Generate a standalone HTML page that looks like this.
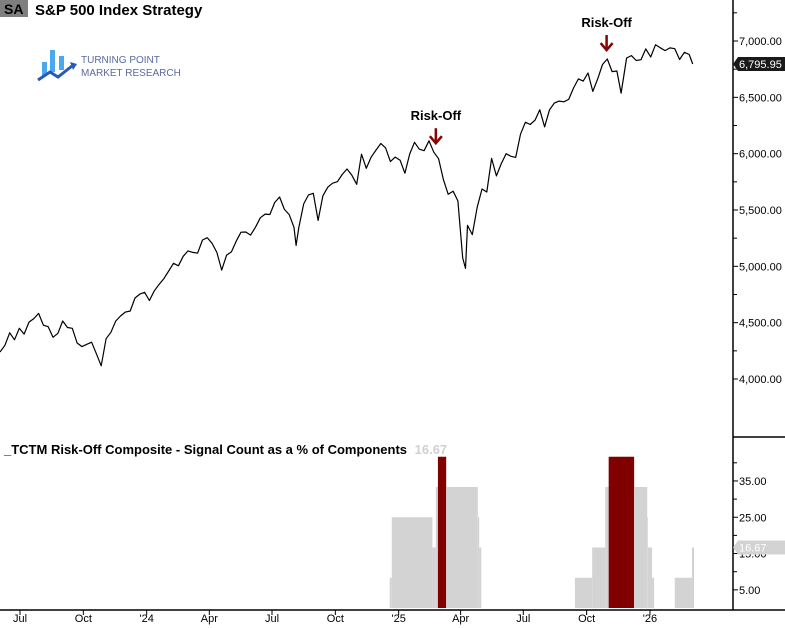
<!DOCTYPE html>
<html><head><meta charset="utf-8"><style>
body{margin:0;background:#fff;}
svg{display:block;font-family:"Liberation Sans",sans-serif;}
</style></head><body>
<svg id="c" width="785" height="628" viewBox="0 0 785 628">
<rect width="785" height="628" fill="#fff"/>
<g>
<rect x="0" y="0" width="28" height="17" fill="#7f7f7f"/>
<text x="4" y="14" font-size="14" font-weight="bold" fill="#000">SA</text>
<text x="35" y="15" font-size="15" font-weight="bold" fill="#000">S&amp;P 500 Index  Strategy</text>
</g>
<g>
<rect x="42" y="62" width="5" height="14" fill="#4aa8f0"/>
<rect x="50" y="50" width="5" height="22" fill="#4aa8f0"/>
<rect x="59" y="56" width="5" height="14" fill="#4aa8f0"/>
<polyline points="38,80 50,72 58,77 72,66" fill="none" stroke="#2a58b8" stroke-width="3"/>
<polygon points="70,62 77,64 73,70" fill="#2a58b8"/>
<text x="81" y="63" font-size="10" fill="#5a6aa0">TURNING POINT</text>
<text x="81" y="76" font-size="10" fill="#5a6aa0">MARKET RESEARCH</text>
</g>
<g id="grid"></g>
<line x1="733" y1="0" x2="733" y2="610" stroke="#000" stroke-width="1.5"/>
<line x1="733" y1="437" x2="785" y2="437" stroke="#000" stroke-width="1.5"/>
<line x1="0" y1="610" x2="785" y2="610" stroke="#000" stroke-width="1.5"/>
<text x="4" y="454" font-size="13" font-weight="bold" fill="#000">_TCTM Risk-Off Composite - Signal Count as a % of Components <tspan fill="#d0d0d0" dx="4">16.67</tspan></text>
<g id="plot"></g>
</svg>
<script>
const priceDates=["2023-06-02","2023-06-09","2023-06-16","2023-06-23","2023-06-30","2023-07-07","2023-07-14","2023-07-21","2023-07-28","2023-08-04","2023-08-11","2023-08-18","2023-08-25","2023-09-01","2023-09-08","2023-09-15","2023-09-22","2023-09-29","2023-10-06","2023-10-13","2023-10-20","2023-10-27","2023-11-03","2023-11-10","2023-11-17","2023-11-24","2023-12-01","2023-12-08","2023-12-15","2023-12-22","2023-12-29",
"2024-01-05","2024-01-12","2024-01-19","2024-01-26","2024-02-02","2024-02-09","2024-02-16","2024-02-23","2024-03-01","2024-03-08","2024-03-15","2024-03-22","2024-03-29","2024-04-05","2024-04-12","2024-04-19","2024-04-26","2024-05-03","2024-05-10","2024-05-17","2024-05-24","2024-05-31","2024-06-07","2024-06-14","2024-06-21","2024-06-28","2024-07-05","2024-07-12","2024-07-19","2024-07-26","2024-08-02","2024-08-05","2024-08-09","2024-08-16","2024-08-23","2024-08-30","2024-09-06","2024-09-13","2024-09-20","2024-09-27","2024-10-04","2024-10-11","2024-10-18","2024-10-25","2024-11-01","2024-11-08","2024-11-15","2024-11-22","2024-11-29","2024-12-06","2024-12-13","2024-12-20","2024-12-27",
"2025-01-03","2025-01-10","2025-01-17","2025-01-24","2025-01-31","2025-02-07","2025-02-14","2025-02-21","2025-02-28","2025-03-07","2025-03-14","2025-03-21","2025-03-28","2025-04-04","2025-04-08","2025-04-11","2025-04-18","2025-04-25","2025-05-02","2025-05-09","2025-05-16","2025-05-23","2025-05-30","2025-06-06","2025-06-13","2025-06-20","2025-06-27","2025-07-04","2025-07-11","2025-07-18","2025-07-25","2025-08-01","2025-08-08","2025-08-15","2025-08-22","2025-08-29","2025-09-05","2025-09-12","2025-09-19","2025-09-26","2025-10-03","2025-10-10","2025-10-17","2025-10-24","2025-10-31","2025-11-07","2025-11-14","2025-11-20","2025-11-28","2025-12-05","2025-12-12","2025-12-19","2025-12-26",
"2026-01-02","2026-01-09","2026-01-16","2026-01-23","2026-01-30","2026-02-06","2026-02-13","2026-02-20","2026-02-27","2026-03-04"];
const priceValues=[4240,4299,4410,4348,4450,4399,4505,4536,4582,4478,4464,4370,4406,4515,4457,4450,4320,4288,4308,4327,4224,4117,4358,4415,4514,4559,4594,4604,4719,4754,4770,
4697,4783,4840,4891,4959,5027,5005,5089,5137,5124,5117,5234,5254,5204,5123,4967,5100,5128,5223,5303,5305,5277,5347,5431,5464,5460,5567,5615,5505,5459,5346,5186,5344,5554,5634,5648,5408,5626,5702,5738,5751,5815,5864,5808,5728,5995,5870,5969,6032,6090,6051,5930,5970,
5942,5827,5997,6101,6040,6026,6114,6013,5955,5770,5639,5667,5581,5074,4982,5363,5282,5525,5686,5660,5958,5803,5912,6000,5977,5967,6173,6279,6259,6297,6389,6238,6389,6449,6467,6460,6482,6584,6664,6644,6716,6553,6664,6791,6840,6728,6734,6538,6849,6870,6827,6834,6930,
6858,6966,6940,6915,6939,6932,6836,6900,6880,6796];
const compDates=["2024-12-19","2024-12-22","2025-02-19","2025-02-24","2025-02-27","2025-03-11","2025-04-26","2025-04-28","2025-05-01","2025-09-14","2025-10-09","2025-10-28","2025-11-02","2025-12-09","2025-12-28","2025-12-29","2026-01-04","2026-01-07","2026-02-06","2026-03-03","2026-03-06"];
const compValues=[8.33,25,16.67,33.33,41.67,33.33,25,16.67,0,8.33,16.67,33.33,41.67,33.33,25,16.67,8.33,0,8.33,16.67,16.67];
const priceTicks=[4000,4500,5000,5500,6000,6500,7000];
const compTicks=[5,15,25,35];
const xTickDates=["2023-07-01","2023-10-01","2024-01-01","2024-04-01","2024-07-01","2024-10-01","2025-01-01","2025-04-01","2025-07-01","2025-10-01","2026-01-01"];
const xTickLabels=["Jul","Oct","'24","Apr","Jul","Oct","'25","Apr","Jul","Oct","'26"];
const signalDates=["2025-02-24","2025-10-30"];
const lastPrice=6795.95;
const lastComp=16.67;

const NS="http://www.w3.org/2000/svg";
const base=Date.UTC(2023,6,1);
function xS(d){const p=d.split("-");return 20+((Date.UTC(+p[0],p[1]-1,+p[2])-base)/864e5)*0.6885;}
function yP(v){return 41+(7000-v)*0.11267;}
function yC(v){return 608-v*3.63;}
function mk(t,a,parent){const e=document.createElementNS(NS,t);for(const k in a)e.setAttribute(k,a[k]);(parent||plot).appendChild(e);return e;}
const plot=document.getElementById("plot");
// composite bars
for(let i=0;i<compDates.length-1;i++){
 if(compValues[i]<=0)continue;
 const x0=xS(compDates[i]),x1=xS(compDates[i+1]);
 const r=mk("rect",{x:x0,y:yC(compValues[i]),width:Math.max(0.5,x1-x0),height:608-yC(compValues[i]),fill:compValues[i]>40?"#800000":"#d3d3d3"});
 
 
}
// price line
let d="";priceDates.forEach((t,i)=>{d+=(i?"L":"M")+xS(t).toFixed(1)+","+yP(priceValues[i]).toFixed(1);});
const pl=mk("path",{d:d,fill:"none",stroke:"#000","stroke-width":1.2,"stroke-linejoin":"round"});


// signals
signalDates.forEach(s=>{
 let best=0;priceDates.forEach((t,i)=>{if(Math.abs(xS(t)-xS(s))<Math.abs(xS(priceDates[best])-xS(s)))best=i;});
 const x=xS(s),y=yP(priceValues[best])-8;
 const g=mk("g",{});
 
 
 mk("line",{x1:x,y1:y-16,x2:x,y2:y-2,stroke:"#8b0000","stroke-width":2.5},g);
 mk("polyline",{points:(x-6)+","+(y-8)+" "+x+","+(y-1)+" "+(x+6)+","+(y-8),fill:"none",stroke:"#8b0000","stroke-width":2.5},g);
 const tx=mk("text",{x:x,y:y-24,"text-anchor":"middle","font-size":13,"font-weight":"bold",fill:"#000"},g);tx.textContent="Risk-Off";
});
// price axis
priceTicks.forEach(v=>{const y=yP(v);
 mk("line",{x1:733,y1:y,x2:738,y2:y,stroke:"#000"});
 const t=mk("text",{x:739,y:y+4,"font-size":11,fill:"#000"});t.textContent=v.toLocaleString("en-US",{minimumFractionDigits:2});
 
 
 mk("line",{x1:733,y1:yP(v+250),x2:737,y2:yP(v+250),stroke:"#000"});
});
compTicks.forEach(v=>{const y=yC(v);
 mk("line",{x1:733,y1:y,x2:738,y2:y,stroke:"#000"});
 mk("line",{x1:733,y1:yC(v+5),x2:737,y2:yC(v+5),stroke:"#000"});
 const t=mk("text",{x:739,y:y+4,"font-size":11,fill:"#000"});t.textContent=v.toFixed(2);
 
 
});
// last value labels
{const y=yP(lastPrice);
 const g=mk("g",{});
 mk("polygon",{points:"733,"+y+" 738,"+(y-7)+" 785,"+(y-7)+" 785,"+(y+7)+" 738,"+(y+7),fill:"#1a1a1a"},g);
 const t=mk("text",{x:739,y:y+4,"font-size":11,fill:"#fff"},g);t.textContent=lastPrice.toLocaleString("en-US",{minimumFractionDigits:2});}
{const y=yC(lastComp);
 const g=mk("g",{});
 mk("polygon",{points:"733,"+y+" 738,"+(y-7)+" 785,"+(y-7)+" 785,"+(y+7)+" 738,"+(y+7),fill:"#d3d3d3"},g);
 const t=mk("text",{x:739,y:y+4,"font-size":11,fill:"#fff"},g);t.textContent=lastComp.toFixed(2);}
// x axis
xTickDates.forEach((s,i)=>{const x=xS(s);
 mk("line",{x1:x,y1:610,x2:x,y2:615,stroke:"#000"});
 const t=mk("text",{x:x,y:622,"text-anchor":"middle","font-size":11,fill:"#000"});t.textContent=xTickLabels[i];
 
 
});
</script>
</body></html>
